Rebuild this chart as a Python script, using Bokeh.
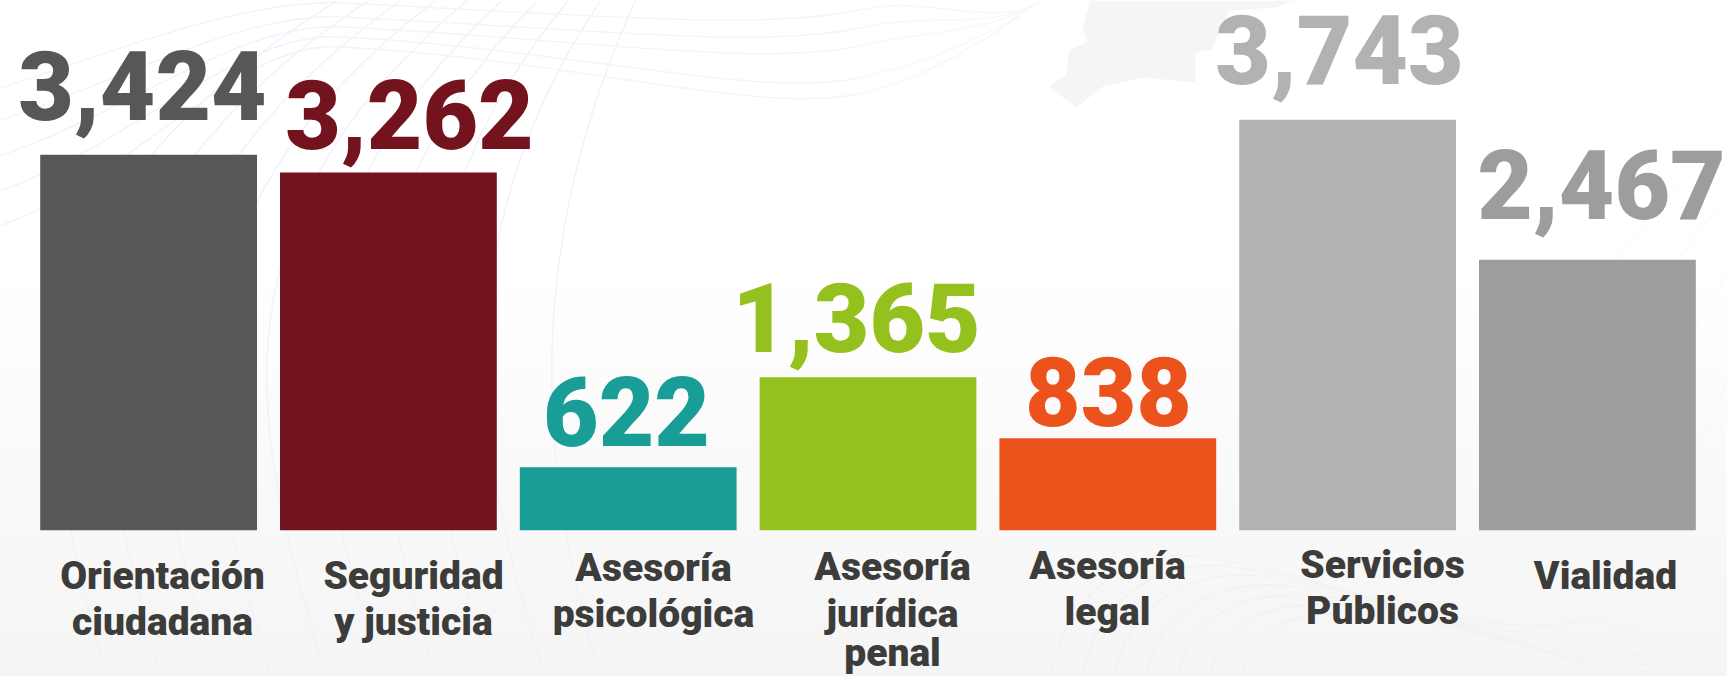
from bokeh.plotting import figure
from bokeh.models import Range1d
from bokeh.core.properties import value
from bokeh.embed import file_html
from bokeh.resources import INLINE

# ---------- data ----------
categories = ["Orientación ciudadana", "Seguridad y justicia", "Asesoría psicológica",
              "Asesoría jurídica penal", "Asesoría legal", "Servicios Públicos", "Vialidad"]
category_lines = [["Orientación", "ciudadana"], ["Seguridad", "y justicia"], ["Asesoría", "psicológica"],
                  ["Asesoría", "jurídica", "penal"], ["Asesoría", "legal"], ["Servicios", "Públicos"], ["Vialidad"]]
value_labels = ["3,424", "3,262", "622", "1,365", "838", "3,743", "2,467"]
# bar heights as drawn in the picture (short bars are not quite to scale with their printed value)
bar_heights = [3424, 3262, 575, 1396, 840, 3743, 2467]
colors = ["#575757", "#73131e", "#189e97", "#95c11f", "#ec531c", "#b2b2b2", "#9d9d9c"]

# ---------- layout ----------
W, H = 1727, 676
PITCH, X0 = 239.8, 148.1       # px between bars, centre of the first bar
BASE, PX_PER_UNIT = 529.8, 0.1097
BIG_SIZE, CAT_SIZE = 96, 39
FONT = "Roboto Black"
SHIFT = 0.355                  # the page draws text centred on its anchor: distance from baseline, in em
big_center_px = [142, 409, 626, 856, 1108, 1339, 1601]
big_baseline_px = [118.7, 148.3, 445, 351.3, 425, 83, 218]
cat_center_px = [162, 413, 653, 892, 1107, 1382, 1605]
cat_baseline_px = [[589.5, 635.5], [589.5, 635.5], [581.5, 627.5], [580.5, 627.5, 666], [579.5, 625.5], [578, 624], [589.5]]

x_start = -X0 / PITCH
y_start = -(H - BASE) / PX_PER_UNIT
def X(px): return x_start + px / PITCH
def Y(px): return (BASE - px) / PX_PER_UNIT

p = figure(width=W, height=H, output_backend="svg", toolbar_location=None,
           x_range=Range1d(x_start, x_start + W / PITCH),
           y_range=Range1d(y_start, BASE / PX_PER_UNIT), min_border=0)
p.axis.visible = False
p.grid.visible = False
p.outline_line_color = None
p.background_fill_alpha = 0
p.border_fill_alpha = 0
p.styles = {"background": "linear-gradient(180deg,#ffffff 0%,#ffffff 40%,#f9f9f9 72%,#f5f5f6 100%)"}

# ---------- decoration: map silhouette and faint mesh ----------
map_x = [1090, 1082, 1087, 1069, 1065, 1048, 1076, 1102, 1143, 1195, 1195, 1211, 1229, 1275, 1293]
map_y = [0, 27, 41, 50, 75, 86, 107, 86, 77, 82, 52, 49, 10, 7, 0]
p.patch([X(v) for v in map_x], [Y(v) for v in map_y], fill_color="#f5f5f6", line_color=None)

def curve(a, b, c, d, color, w=1.2, alpha=1.0):
    p.bezier(x0=[X(a[0])], y0=[Y(a[1])], x1=[X(d[0])], y1=[Y(d[1])],
             cx0=[X(b[0])], cy0=[Y(b[1])], cx1=[X(c[0])], cy1=[Y(c[1])],
             line_color=color, line_width=w, line_alpha=alpha)

fan = [(635, 600, 530, 530), (600, 545, 445, 470), (568, 490, 375, 420), (537, 435, 310, 370),
       (502, 380, 250, 315), (467, 325, 190, 260), (435, 270, 135, 205), (400, 215, 80, 150),
       (368, 160, 25, 100), (337, 105, -30, 50)]
for top, end, c0, c1 in fan:
    curve((top, 0), (c0, 230), (c1, 450), (end, 676), "#f0f1fa", 1.4)

wave = [(0, 88, 330, 2, 4), (0, 120, 330, 16, 22), (0, 155, 330, 26, 40), (0, 190, 330, 36, 72), (0, 225, 330, 46, 88)]
for x0, y0, xm, ym, yb in wave:
    curve((x0, y0), (120, y0 - 40), (230, ym + 2), (xm, ym), "#f1f2fa", 1.3)
    curve((xm, ym), (560, ym + 10), (760, yb + 28), (860, yb + 5), "#f3f4fa", 1.3)
    curve((860, yb + 5), (930, yb - 10), (1000, 30), (1040, 0), "#f7f7fc", 1.3)

arcs = [(1048, 556), (1080, 566), (1112, 576), (1144, 586), (1176, 596), (1208, 606), (1240, 616)]
for bx, ty in arcs:
    curve((bx, 690), (bx + 5, 620), (bx + 60, ty - 10), (bx + 150, ty), "#f0f0f0", 1.2)
    curve((bx + 150, ty), (bx + 280, ty + 15), (bx + 420, ty + 95), (bx + 560, ty + 60), "#f2f2f2", 1.2)

for x0 in (1500, 1560, 1620, 1680):
    curve((x0, 500), (x0 + 30, 400), (x0 + 90, 280), (x0 + 180, 180), "#f7f7fb", 1.0)

# ---------- bars ----------
idx = list(range(len(categories)))
p.vbar(x=idx, top=bar_heights, bottom=0, width=0.904, fill_color=colors, line_color=None)

# ---------- value labels ----------
p.text(x=[X(v) for v in big_center_px], y=[Y(v - SHIFT * BIG_SIZE) for v in big_baseline_px], text=value_labels,
       text_color=colors, text_font=value(FONT), text_font_size=value(f"{BIG_SIZE}px"),
       text_align="center", text_baseline="alphabetic")

# ---------- category labels ----------
xs, ys, ts = [], [], []
for lines, cx, bl in zip(category_lines, cat_center_px, cat_baseline_px):
    for t, b in zip(lines, bl):
        xs.append(X(cx)); ys.append(Y(b - SHIFT * CAT_SIZE)); ts.append(t)
p.text(x=xs, y=ys, text=ts, text_color="#3c3c3b", text_font=value(FONT),
       text_font_size=value(f"{CAT_SIZE}px"), text_align="center", text_baseline="alphabetic")

open("out.html", "w").write(file_html(p, INLINE))
